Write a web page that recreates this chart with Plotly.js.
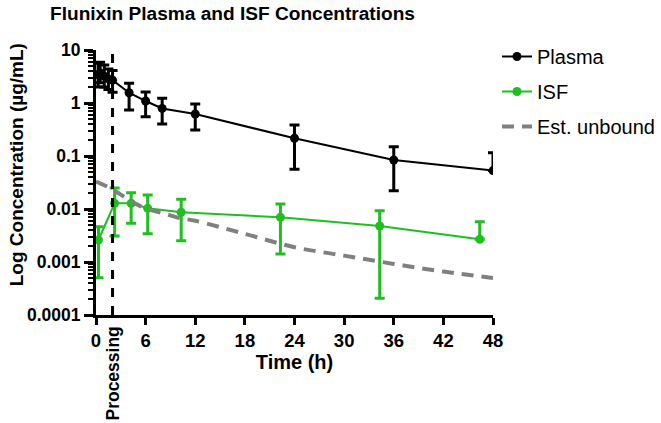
<!DOCTYPE html>
<html>
<head>
<meta charset="utf-8">
<script src="https://cdn.plot.ly/plotly-3.0.1.min.js"></script>
<style>html,body{margin:0;padding:0;background:#fff;}#chart{width:661px;height:423px;}</style>
</head>
<body>
<div id="chart"></div>
<script>
// Plasma
const plasmaTime = [0.25, 0.5, 1, 1.5, 2, 4, 6, 8, 12, 24, 36, 48];
const plasmaConc = [3.4, 3.7, 3.2, 2.85, 2.7, 1.56, 1.09, 0.79, 0.62, 0.216, 0.084, 0.053];
const plasmaErrUp = [5.6, 5.9, 5.2, 4.4, 4.1, 2.35, 1.61, 1.23, 0.96, 0.385, 0.15, 0.115];
const plasmaErrLow = [2.0, 2.4, 2.0, 1.8, 1.6, 0.74, 0.55, 0.40, 0.31, 0.056, 0.022, 0.053];
// ISF
const isfTime = [0.3, 2.25, 4.25, 6.25, 10.3, 22.3, 34.3, 46.4];
const isfConc = [0.0026, 0.0128, 0.0128, 0.0103, 0.0087, 0.00697, 0.00478, 0.00268];
const isfErrUp = [0.00463, 0.0249, 0.0203, 0.0184, 0.0152, 0.0124, 0.0093, 0.00575];
const isfErrLow = [0.000506, 0.0031, 0.0054, 0.0034, 0.00252, 0.00142, 0.000207, 0.00268];
// Estimated unbound
const unboundTime = [0, 2, 4, 6, 8, 10, 12, 18, 24, 30, 36, 42, 48];
const unboundConc = [0.033, 0.0235, 0.0148, 0.0102, 0.0084, 0.0068, 0.006, 0.0034, 0.0019, 0.00132, 0.00092, 0.00066, 0.0005];
// Axis ticks
const xTicks = [0, 6, 12, 18, 24, 30, 36, 42, 48];
const yTickVals = [0.0001, 0.001, 0.01, 0.1, 1, 10];
const yTickText = ['0.0001', '0.001', '0.01', '0.1', '1', '10'];
const processingTime = 2;

const green = '#1fbf1f';
const FONT = 'Liberation Sans, Arial, sans-serif';

function errSpec(conc, up, low, color) {
  return {
    type: 'data', symmetric: false,
    array: conc.map((v, i) => up[i] - v),
    arrayminus: conc.map((v, i) => v - low[i]),
    color: color, thickness: 3, width: 5, visible: true
  };
}

const traces = [
  {
    x: plasmaTime, y: plasmaConc, name: 'Plasma', mode: 'lines+markers',
    line: {color: '#000', width: 2}, marker: {color: '#000', size: 9},
    error_y: errSpec(plasmaConc, plasmaErrUp, plasmaErrLow, '#000'),
    legendgroup: 'a'
  },
  {
    x: isfTime, y: isfConc, name: 'ISF', mode: 'lines+markers',
    line: {color: green, width: 2}, marker: {color: green, size: 9},
    error_y: errSpec(isfConc, isfErrUp, isfErrLow, green),
    legendgroup: 'b'
  },
  {
    x: unboundTime, y: unboundConc, name: 'Est. unbound', mode: 'lines',
    line: {color: '#808080', width: 4, dash: '12px,8px', shape: 'spline'},
    legendgroup: 'c'
  }
];

const layout = {
  width: 661, height: 423,
  margin: {l: 96, r: 168, t: 50, b: 108},
  paper_bgcolor: '#fff', plot_bgcolor: '#fff',
  font: {family: FONT, color: '#000'},
  showlegend: true,
  title: {
    text: '<b>Flunixin Plasma and ISF Concentrations</b>',
    font: {family: FONT, size: 19.1, color: '#000'},
    x: 50/661, xanchor: 'left', xref: 'container',
    y: 1 - 13/423, yanchor: 'middle', yref: 'container'
  },
  xaxis: {
    range: [0, 48], tickvals: xTicks, ticktext: xTicks.map(String),
    showgrid: false, zeroline: false, showline: true, linecolor: '#000', linewidth: 3,
    ticks: 'outside', ticklen: 7, tickwidth: 3, tickcolor: '#000',
    tickfont: {family: FONT, size: 18.5, color: '#000', weight: 'bold'},
    title: {text: '<b>Time (h)</b>', font: {family: FONT, size: 20, color: '#000'}, standoff: 4}
  },
  yaxis: {
    type: 'log', range: [-4, 1], tickvals: yTickVals, ticktext: yTickText,
    showgrid: false, zeroline: false, showline: true, linecolor: '#000', linewidth: 3,
    ticks: 'outside', ticklen: 9, tickwidth: 3, tickcolor: '#000',
    tickfont: {family: FONT, size: 17.5, color: '#000', weight: 'bold'},
    minor: {ticks: 'outside', ticklen: 5, tickwidth: 2, tickcolor: '#000', dtick: 'D1', showgrid: false}
  },
  legend: {
    x: 497/661, xref: 'container', xanchor: 'left',
    y: 1 - 37/423, yref: 'container', yanchor: 'top',
    font: {family: FONT, size: 20, color: '#000'},
    tracegroupgap: 6, itemwidth: 30, bgcolor: 'rgba(0,0,0,0)'
  },
  shapes: [{
    type: 'line', xref: 'x', yref: 'paper', x0: processingTime, x1: processingTime, y0: 0, y1: 1,
    line: {color: '#000', width: 3, dash: 'dash'}
  }],
  annotations: [
    {
      text: '<b>Log Concentration (µg/mL)</b>', textangle: -90,
      xref: 'paper', yref: 'paper', x: -80/397, y: 0.565, xanchor: 'center', yanchor: 'middle',
      showarrow: false, font: {family: FONT, size: 19, color: '#000'}
    },
    {
      text: '<b>Processing</b>', textangle: -90,
      xref: 'x', yref: 'paper', x: processingTime, y: -10/265, xanchor: 'center', yanchor: 'top',
      showarrow: false, font: {family: FONT, size: 17.5, color: '#000'}
    }
  ]
};

Plotly.newPlot('chart', traces, layout, {displayModeBar: false, staticPlot: true});
</script>
</body>
</html>
